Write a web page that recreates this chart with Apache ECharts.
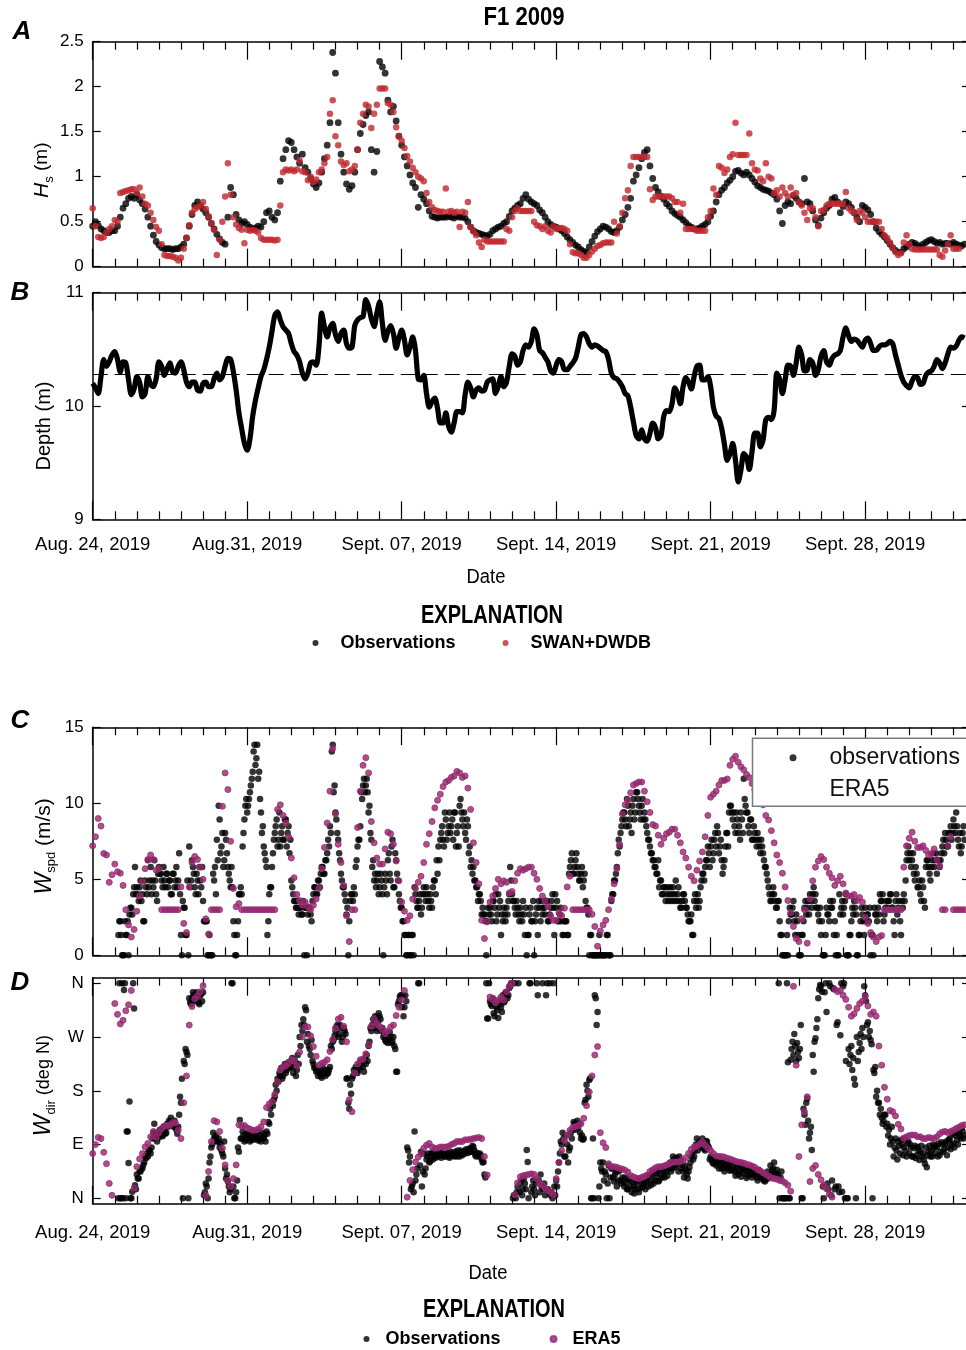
<!DOCTYPE html>
<html>
<head>
<meta charset="utf-8">
<script src="https://cdn.jsdelivr.net/npm/echarts@6/dist/echarts.min.js"></script>
<style>
  html, body { margin: 0; padding: 0; background: #fff; }
  #chart { width: 966px; height: 1350px; }
</style>
</head>
<body>
<div id="chart"></div>
<script>
// ---- Time axis: days since Aug. 24, 2019 00:00 ----
const TICK_LABELS = ['Aug. 24, 2019', 'Aug.31, 2019', 'Sept. 07, 2019', 'Sept. 14, 2019', 'Sept. 21, 2019', 'Sept. 28, 2019'];
const DIR_TICKS = [0, 90, 180, 270, 360];
const DIR_LABELS = ['N', 'E', 'S', 'W', 'N'];

// Modelled / gridded series: 3-hourly from day 0
const START_3H = 0;
const STEP_3H = 0.125;
// Station wind records: hourly from day 1, kept as even-hour and odd-hour lists
// (speeds logged in whole mph)
const OBS_EVEN_START = 1;
const OBS_ODD_START = 1 + 1 / 24;
const STEP_2H = 1 / 12;
const MPH_TO_MS = 0.44704;

// Mean water depth (dashed reference line)
const DEPTH_MEAN = 10.28;

// Significant wave height, observations (m)
const HS_OBS = [
  0.45,0.5,0.46,0.42,0.4,0.38,0.38,0.4,
  0.4,0.45,0.55,0.65,0.7,0.76,0.78,0.76,
  0.8,0.74,0.7,0.64,0.55,0.45,0.35,0.28,
  0.24,0.21,0.2,0.2,0.2,0.19,0.2,0.2,
  0.22,0.25,0.32,0.45,0.58,0.68,0.72,0.68,
  0.64,0.6,0.55,0.48,0.42,0.36,0.31,0.27,
  0.25,0.55,0.88,0.8,0.58,0.52,0.48,0.5,
  0.47,0.44,0.42,0.43,0.45,0.44,0.5,0.6,
  0.62,0.55,0.52,0.6,0.95,1.2,1.3,1.4,
  1.38,1.3,1.22,1.15,1.25,1.1,1.05,0.98,
  0.92,0.88,0.93,1.05,1.2,1.35,1.6,2.38,
  2.15,1.6,1.25,1.05,0.92,0.86,0.9,1.05,
  1.3,1.48,1.58,1.68,1.72,1.3,1.05,1.28,
  2.28,2.22,2.15,1.85,1.72,1.78,1.62,1.45,
  1.35,1.22,1.12,1.02,0.93,0.88,0.66,0.8,
  0.75,0.7,0.62,0.56,0.55,0.54,0.55,0.55,
  0.55,0.56,0.55,0.54,0.56,0.55,0.55,0.54,
  0.5,0.44,0.4,0.38,0.37,0.36,0.35,0.34,
  0.36,0.4,0.42,0.44,0.45,0.48,0.5,0.56,
  0.62,0.65,0.68,0.7,0.76,0.8,0.75,0.72,
  0.7,0.68,0.63,0.6,0.55,0.5,0.47,0.45,
  0.44,0.42,0.4,0.37,0.33,0.3,0.27,0.24,
  0.22,0.19,0.17,0.16,0.22,0.28,0.34,0.39,
  0.42,0.45,0.44,0.42,0.39,0.38,0.4,0.44,
  0.52,0.58,0.66,0.76,0.95,1.02,1.1,1.2,
  1.27,1.3,1.12,0.98,0.88,0.83,0.78,0.75,
  0.7,0.67,0.62,0.59,0.57,0.55,0.52,0.49,
  0.46,0.44,0.42,0.42,0.43,0.45,0.47,0.5,
  0.56,0.62,0.72,0.8,0.85,0.88,0.93,0.96,
  1.0,1.06,1.07,1.04,1.02,1.05,1.02,0.98,
  0.94,0.9,0.88,0.86,0.85,0.84,0.82,0.8,
  0.75,0.62,0.48,0.68,0.72,0.7,0.79,0.76,
  0.72,0.7,0.98,0.72,0.7,0.62,0.52,0.46,
  0.54,0.6,0.65,0.68,0.75,0.77,0.72,0.6,
  0.67,0.72,0.7,0.66,0.6,0.55,0.5,0.68,
  0.66,0.63,0.58,0.5,0.43,0.39,0.36,0.33,
  0.29,0.25,0.21,0.18,0.16,0.16,0.2,0.22,
  0.25,0.27,0.26,0.24,0.22,0.25,0.27,0.29,
  0.3,0.28,0.26,0.27,0.25,0.26,0.26,0.25,
  0.27,0.25,0.24,0.23,0.25
];

// Significant wave height, SWAN+DWDB (m)
const HS_MODEL = [
  0.65,0.45,0.33,0.32,0.33,0.38,0.42,0.45,
  0.52,0.5,0.82,0.83,0.84,0.85,0.86,0.86,
  0.82,0.88,0.78,0.7,0.68,0.6,0.52,0.44,
  0.4,0.25,0.13,0.12,0.12,0.11,0.1,0.07,
  0.1,0.2,0.32,0.46,0.6,0.64,0.66,0.68,
  0.72,0.64,0.56,0.48,0.41,0.13,0.3,0.5,
  0.78,1.15,0.8,0.55,0.47,0.43,0.41,0.26,
  0.41,0.4,0.41,0.4,0.38,0.32,0.3,0.3,
  0.3,0.3,0.29,0.3,0.68,1.05,1.08,1.07,
  1.08,1.06,1.08,1.18,1.06,1.05,0.96,1.0,
  0.94,0.97,1.05,1.08,1.15,1.22,1.7,1.85,
  1.45,1.35,1.17,1.13,1.15,1.06,1.08,1.12,
  1.3,1.6,1.7,1.8,1.78,1.54,1.7,1.8,
  1.98,1.98,1.98,1.82,1.8,1.72,1.55,1.45,
  1.4,1.32,1.23,1.17,1.1,1.05,1.0,0.98,
  0.95,0.82,0.72,0.66,0.63,0.62,0.61,0.61,
  0.87,0.61,0.62,0.6,0.61,0.44,0.61,0.6,
  0.72,0.44,0.39,0.35,0.27,0.22,0.3,0.28,
  0.28,0.28,0.28,0.28,0.28,0.28,0.42,0.4,
  0.55,0.62,0.65,0.62,0.62,0.62,0.62,0.62,
  0.5,0.46,0.45,0.42,0.45,0.4,0.38,0.45,
  0.42,0.43,0.43,0.42,0.4,0.25,0.16,0.15,
  0.15,0.13,0.1,0.1,0.13,0.17,0.2,0.23,
  0.24,0.26,0.27,0.27,0.27,0.5,0.37,0.45,
  0.6,0.76,0.85,1.12,1.22,1.22,1.22,1.22,
  1.22,1.22,0.86,0.74,0.78,0.78,0.78,0.78,
  0.78,0.78,0.76,0.72,0.72,0.6,0.7,0.42,
  0.42,0.42,0.42,0.4,0.4,0.4,0.4,0.55,
  0.62,0.87,0.8,1.12,1.1,1.04,1.08,1.22,
  1.25,1.6,1.24,1.24,1.24,1.24,1.48,1.15,
  1.08,1.07,0.98,0.95,1.15,1.0,0.98,0.82,
  0.85,0.78,0.88,0.82,0.78,0.88,0.8,0.82,
  0.72,0.68,0.6,0.52,0.65,0.65,0.55,0.45,
  0.62,0.63,0.68,0.7,0.7,0.7,0.7,0.7,
  0.7,0.83,0.65,0.62,0.6,0.52,0.62,0.6,
  0.55,0.5,0.5,0.5,0.5,0.5,0.42,0.35,
  0.32,0.27,0.21,0.16,0.13,0.15,0.27,0.35,
  0.25,0.2,0.19,0.19,0.19,0.19,0.19,0.19,
  0.19,0.19,0.19,0.13,0.11,0.18,0.25,0.35,
  0.2,0.2,0.2
];

// Water depth (m)
const DEPTH = [
  10.2,10.16,10.11,10.26,10.41,10.35,10.39,10.45,
  10.48,10.41,10.3,10.39,10.38,10.23,10.1,10.15,
  10.26,10.21,10.08,10.11,10.26,10.19,10.17,10.24,
  10.39,10.35,10.27,10.33,10.38,10.3,10.29,10.35,
  10.39,10.32,10.21,10.17,10.21,10.21,10.14,10.13,
  10.2,10.21,10.17,10.17,10.24,10.29,10.23,10.26,
  10.35,10.42,10.41,10.3,10.14,9.94,9.8,9.67,
  9.61,9.71,9.91,10.05,10.16,10.26,10.32,10.41,
  10.52,10.66,10.8,10.83,10.76,10.7,10.67,10.64,
  10.55,10.48,10.45,10.39,10.29,10.24,10.29,10.38,
  10.39,10.36,10.52,10.82,10.7,10.61,10.69,10.73,
  10.63,10.57,10.64,10.67,10.55,10.51,10.52,10.71,
  10.76,10.78,10.79,10.94,10.88,10.77,10.7,10.82,
  10.92,10.73,10.58,10.66,10.71,10.64,10.51,10.6,
  10.67,10.58,10.45,10.52,10.61,10.49,10.24,10.23,
  10.27,10.11,9.99,10.04,10.07,9.98,9.85,9.85,
  9.94,9.82,9.77,9.85,9.95,9.95,9.94,10.1,
  10.21,10.16,10.08,10.14,10.16,10.13,10.14,10.21,
  10.23,10.24,10.11,10.17,10.26,10.17,10.21,10.35,
  10.46,10.44,10.36,10.39,10.49,10.54,10.52,10.57,
  10.68,10.63,10.49,10.47,10.43,10.39,10.31,10.29,
  10.36,10.41,10.39,10.32,10.32,10.35,10.38,10.42,
  10.52,10.63,10.64,10.61,10.55,10.52,10.54,10.53,
  10.51,10.49,10.48,10.41,10.29,10.25,10.24,10.21,
  10.17,10.11,10.09,9.99,9.86,9.74,9.71,9.79,
  9.71,9.69,9.76,9.85,9.81,9.71,9.74,9.91,
  9.96,9.95,10.02,10.16,10.11,10.02,10.17,10.25,
  10.21,10.15,10.26,10.35,10.36,10.23,10.23,10.26,
  10.17,9.99,9.91,9.89,9.8,9.66,9.52,9.58,
  9.67,9.52,9.33,9.44,9.58,9.55,9.44,9.6,
  9.76,9.76,9.64,9.7,9.88,9.9,9.88,9.96,
  10.29,10.24,10.11,10.23,10.36,10.35,10.27,10.38,
  10.52,10.45,10.31,10.32,10.41,10.38,10.27,10.32,
  10.44,10.49,10.39,10.36,10.42,10.45,10.46,10.49,
  10.61,10.69,10.62,10.57,10.59,10.58,10.55,10.52,
  10.58,10.6,10.55,10.49,10.49,10.52,10.54,10.54,
  10.55,10.57,10.55,10.45,10.36,10.27,10.21,10.18,
  10.16,10.22,10.26,10.25,10.19,10.2,10.27,10.3,
  10.31,10.35,10.41,10.38,10.33,10.38,10.46,10.52,
  10.51,10.53,10.58,10.61,10.6
];

// Wind speed, ERA5 (m/s)
const ERA5_SPD = [
  7.2,7.8,9.0,8.5,6.7,6.6,4.8,5.3,
  6.0,5.5,5.4,4.6,3.0,2.0,1.2,1.7,
  2.9,3.9,4.8,5.7,6.3,6.6,6.3,5.6,
  5.7,3.0,3.0,3.0,3.0,3.0,3.0,3.0,
  4.5,2.1,1.5,4.5,6.1,6.5,6.3,5.8,
  5.0,2.4,1.4,3.0,3.0,3.0,3.0,9.8,
  12.0,10.9,7.5,4.4,3.2,3.4,3.0,3.0,
  3.0,3.0,3.0,3.0,3.0,3.0,3.0,3.0,
  3.0,3.0,3.0,9.6,9.9,9.2,8.7,7.8,
  6.4,5.1,4.0,3.6,3.3,3.5,3.2,3.0,
  3.3,3.7,4.4,5.7,7.1,8.7,10.8,13.6,
  9.3,7.3,6.1,4.6,2.6,0.9,3.0,3.0,
  8.4,10.8,12.5,13.0,12.0,8.8,7.4,6.4,
  6.0,6.0,7.0,8.1,8.0,7.3,6.2,4.9,
  3.5,2.9,2.3,2.6,3.7,4.4,4.8,5.2,
  6.1,7.3,8.0,8.8,9.7,10.2,10.6,11.1,
  11.4,11.5,11.7,11.8,12.1,12.0,11.7,11.8,
  11.0,9.6,7.4,6.1,4.7,2.3,1.1,2.2,
  3.5,3.9,4.4,5.0,4.7,4.9,4.8,4.1,
  4.2,4.9,5.4,5.7,5.6,5.7,5.8,5.8,
  5.4,5.0,4.4,3.9,3.6,3.2,2.6,2.3,
  2.3,2.8,2.6,3.1,4.5,5.2,3.0,3.0,
  3.0,3.0,3.0,3.0,3.0,2.7,1.9,0.6,
  1.6,2.0,2.3,3.0,3.7,4.7,5.7,7.3,
  9.3,9.9,10.2,10.7,11.2,11.3,11.4,11.4,
  10.8,10.1,9.4,8.6,8.5,7.9,7.3,7.7,
  8.0,8.1,8.3,8.3,7.9,7.4,6.8,6.4,
  5.8,5.2,4.9,5.6,6.2,6.8,7.8,9.2,
  10.4,10.6,10.8,11.2,11.5,11.5,11.6,12.5,
  12.9,13.1,12.7,12.4,12.2,11.9,11.7,11.3,
  10.9,10.7,10.5,9.9,9.2,8.9,8.2,7.4,
  6.6,6.1,5.4,4.5,3.6,2.8,1.9,1.1,
  0.9,2.4,3.0,0.8,3.7,4.9,5.8,6.2,
  6.5,6.3,5.8,5.4,5.1,4.6,4.9,5.2,
  4.7,4.1,3.9,3.9,4.0,3.6,3.8,3.5,
  2.5,2.1,1.5,1.2,0.9,1.2,1.3,3.0,
  3.0,3.0,3.0,3.0,3.0,3.0,5.8,7.2,
  7.7,8.1,7.5,7.1,7.1,7.2,6.9,6.6,
  6.7,7.0,6.3,5.9,3.0,3.0,7.2,7.8,
  3.0,3.0,3.0,3.0,3.0
];

// Wind speed, station observations at even hours (mph)
const WSPD_OBS_EVEN_MPH = [
  null,null,3,5,0,0,3,5,6,7,9,13,
  10,8,11,9,5,10,14,11,9,10,11,8,
  13,12,10,11,12,10,11,9,12,11,10,15,
  3,8,7,3,0,10,14,12,9,11,13,10,
  8,5,5,0,0,0,11,9,14,20,16,13,
  18,15,12,10,10,3,0,5,9,9,18,22,
  21,23,25,27,31,29,26,23,18,16,14,3,
  9,10,15,18,20,17,16,19,17,20,18,15,
  11,9,8,7,6,7,6,0,7,6,7,5,
  9,10,9,11,12,13,12,14,17,19,30,24,
  21,18,15,12,10,9,6,0,8,9,10,13,
  16,17,24,25,24,26,21,18,13,11,10,12,
  10,11,0,12,9,15,11,17,10,14,11,8,
  7,5,3,0,3,0,3,10,8,7,9,7,
  10,8,9,7,8,10,11,14,16,17,19,16,
  20,18,21,19,17,21,18,16,23,20,21,17,
  19,16,14,13,11,10,9,8,7,6,0,7,
  7,5,8,9,6,7,3,5,6,7,8,13,
  9,8,6,7,5,6,8,3,0,3,7,5,
  0,6,3,7,8,7,6,8,5,7,9,3,
  7,5,6,5,3,5,3,12,14,12,13,15,
  12,11,13,11,8,7,0,3,0,0,0,0,
  0,0,0,0,3,0,8,9,11,13,17,18,
  20,21,19,22,20,18,23,21,24,22,20,23,
  21,19,17,16,15,14,13,12,10,11,9,10,
  9,8,10,9,8,11,9,8,7,9,8,7,
  5,5,3,8,7,9,8,11,12,13,14,15,
  16,14,17,16,18,16,14,13,16,18,21,22,
  20,19,21,18,17,20,26,22,21,18,20,17,
  18,16,17,15,16,14,13,11,9,8,10,8,
  7,8,3,0,0,0,0,7,6,8,3,5,
  0,0,3,7,6,8,9,7,10,9,7,5,
  3,0,0,7,6,8,7,3,0,0,9,7,
  6,8,0,0,3,7,8,6,0,3,7,5,
  7,6,5,0,3,7,6,7,9,8,5,7,
  7,8,9,7,3,9,7,5,8,9,11,15,
  14,13,15,11,12,10,9,11,8,13,14,12,
  13,15,14,12,14,14,16,15,17,16,18,17,
  20,18,19,16,15,18,17
];

// Wind speed, station observations at odd hours (mph)
const WSPD_OBS_ODD_MPH = [
  null,null,5,3,0,5,3,0,7,6,10,9,
  9,10,8,5,11,9,10,13,11,14,9,12,
  12,11,13,10,12,11,9,12,10,13,11,9,
  0,7,3,11,16,11,13,10,12,9,11,13,
  5,5,0,3,0,12,13,17,22,15,18,14,
  17,13,11,13,5,0,3,9,10,16,20,23,
  22,24,26,30,28,31,27,21,19,15,13,5,
  10,13,17,19,16,21,18,17,20,16,19,17,
  10,8,7,8,7,6,8,7,0,7,6,8,
  10,9,11,10,13,12,14,15,16,18,31,25,
  20,17,14,11,10,8,7,5,9,8,9,14,
  17,19,23,26,25,24,22,17,14,12,11,9,
  12,9,10,11,14,12,16,10,15,12,9,7,
  5,3,0,3,0,3,0,9,7,8,6,9,
  9,10,8,9,7,11,9,12,14,18,17,21,
  17,19,18,20,21,16,19,22,21,19,18,20,
  15,13,12,11,10,8,9,6,6,5,5,6,
  6,8,7,5,9,8,6,7,5,6,9,11,
  8,7,8,6,7,5,6,7,3,6,5,8,
  5,7,8,5,6,7,8,5,6,8,7,9,
  8,5,7,3,5,5,3,13,15,12,14,13,
  11,12,10,12,7,6,3,0,0,0,0,3,
  0,0,0,3,0,0,9,11,12,15,16,19,
  21,20,23,19,21,22,20,24,23,21,22,20,
  20,18,17,15,14,13,12,14,11,9,10,8,
  10,9,8,10,9,8,10,7,8,9,7,6,
  5,6,3,9,8,7,10,12,11,14,16,13,
  17,15,18,19,15,17,12,14,18,16,22,21,
  21,18,20,19,21,18,23,21,19,20,17,19,
  17,18,16,17,15,13,12,10,8,9,9,7,
  8,5,3,0,0,3,5,6,7,5,6,3,
  0,3,5,8,7,6,8,9,8,7,6,7,
  5,0,3,6,5,7,8,5,3,0,6,8,
  7,9,0,3,5,6,7,0,3,5,6,3,
  5,6,7,3,0,6,5,6,8,9,6,8,
  8,9,7,5,8,6,8,3,7,8,14,16,
  15,14,12,13,10,11,8,10,7,14,13,11,
  14,13,15,14,13,15,17,18,16,18,19,18,
  19,21,17,18,16,19
];

// Wind direction, ERA5 (degrees from N)
const ERA5_DIR = [
  75,90,102,100,77,58,25,5,
  326,308,292,298,314,324,348,17,
  53,66,75,86,92,103,112,102,
  110,117,121,122,123,127,126,114,
  100,160,205,290,321,334,339,346,
  356,5,45,95,130,128,112,84,
  56,30,20,33,56,123,121,122,
  118,116,114,114,116,120,128,152,
  158,162,174,195,215,220,222,226,
  232,230,222,245,270,287,287,272,
  254,238,223,226,228,232,246,266,
  285,300,303,288,262,165,145,210,
  225,232,233,242,257,288,300,293,
  288,283,276,280,287,290,306,320,
  332,348,2,30,48,61,69,74,
  84,89,92,86,84,84,86,86,
  86,87,90,92,95,95,95,98,
  98,99,100,101,102,100,70,39,
  337,333,327,332,337,332,346,355,
  360,6,26,36,38,39,40,41,
  40,33,25,22,17,13,10,6,
  33,60,80,97,106,114,119,120,
  122,125,134,155,178,205,240,254,
  110,93,85,58,53,53,52,50,
  49,47,44,38,36,34,33,35,
  37,39,45,48,51,53,53,54,
  56,58,60,61,61,62,63,68,
  75,82,86,87,91,95,89,84,
  80,75,71,70,70,69,67,66,
  64,62,61,60,59,57,56,54,
  52,48,46,43,40,37,34,33,
  32,30,29,26,22,12,355,223,
  70,123,145,170,28,50,55,40,
  31,22,16,7,2,350,346,348,
  340,333,320,305,309,318,326,330,
  338,322,308,312,305,255,223,186,
  166,147,145,138,124,116,101,103,
  105,106,106,103,103,100,100,102,
  101,100,103,108,111,112,110,112,
  114,117,119,122,123
];

// Wind direction, station observations at even hours (degrees from N)
const WDIR_OBS_EVEN = [
  null,null,0,0,360,349,0,112,162,0,360,22,
  40,33,45,50,60,67,70,80,85,110,100,95,
  102,110,104,115,110,120,125,128,120,118,108,140,
  160,0,225,245,0,328,335,340,332,338,325,342,
  345,10,20,33,70,90,100,105,95,85,80,70,
  50,40,20,15,360,0,10,85,131,100,105,98,
  100,105,98,102,108,100,97,105,110,100,95,108,
  125,140,155,170,180,195,205,200,215,210,222,218,
  225,210,230,215,225,255,280,290,315,275,250,265,
  225,220,215,210,205,220,212,215,210,220,250,265,
  280,290,275,285,270,280,200,160,190,200,215,220,
  210,225,230,220,235,240,255,285,290,300,285,295,
  305,280,270,265,275,265,270,262,255,212,325,338,
  320,305,340,85,60,15,25,112,40,360,55,20,
  75,50,70,60,75,65,70,75,70,78,72,75,
  70,76,68,75,72,78,70,75,80,72,78,82,
  76,84,78,86,72,76,70,72,60,40,360,301,
  330,322,310,325,315,330,320,340,330,345,340,355,
  360,5,0,20,10,30,15,25,81,0,360,20,
  15,25,340,10,20,15,5,360,10,5,0,20,
  30,45,75,90,100,70,90,80,110,115,125,120,
  118,110,105,100,165,180,198,0,100,340,290,0,
  60,45,30,40,25,0,50,35,40,20,45,30,
  35,20,25,15,30,10,20,15,25,10,30,20,
  25,35,20,30,40,25,35,45,30,40,50,35,
  45,55,60,50,65,55,60,70,50,45,55,40,
  45,60,75,70,90,80,95,85,90,80,95,85,
  70,60,65,55,62,58,50,60,55,50,58,48,
  55,45,52,40,48,55,42,50,38,46,52,40,
  45,35,48,38,42,30,38,45,35,40,50,42,
  48,360,35,0,0,0,228,0,250,240,255,260,
  235,290,0,140,160,130,110,81,212,268,300,350,
  355,20,345,312,15,355,30,350,20,295,10,360,
  355,0,0,250,240,215,200,0,230,260,250,270,
  340,290,270,265,0,210,170,160,140,135,130,140,
  125,115,100,95,85,80,95,75,90,85,80,92,
  75,85,70,88,72,80,78,70,65,85,72,88,
  80,90,75,85,92,78,90,82,95,85,100,90,
  92,105,98,110,100,112,105
];

// Wind direction, station observations at odd hours (degrees from N)
const WDIR_OBS_ODD = [
  null,null,360,0,0,360,112,59,0,11,318,15,
  33,45,50,56,70,75,80,75,100,125,110,105,
  115,105,120,108,125,130,135,126,130,115,120,170,
  200,230,250,240,335,325,345,330,345,328,340,330,
  5,25,0,60,85,110,102,95,100,92,75,95,
  33,28,10,360,20,0,30,78,100,112,95,108,
  108,95,110,98,104,112,100,95,100,106,112,128,
  150,160,165,190,200,210,218,205,225,215,228,220,
  235,220,205,240,270,290,300,320,262,255,240,230,
  218,212,205,215,202,210,205,208,215,255,262,272,
  287,270,290,262,285,275,201,150,175,205,210,215,
  215,220,228,212,225,230,262,280,300,305,280,310,
  300,285,275,262,260,278,260,270,250,212,330,340,
  340,320,330,80,70,20,10,30,50,360,78,45,
  40,65,75,62,70,78,68,72,76,68,74,70,
  74,70,78,72,70,75,80,70,74,78,75,80,
  82,78,88,80,70,74,75,65,61,35,301,360,
  325,335,305,320,302,325,312,328,345,335,352,360,
  0,360,10,360,25,5,33,15,61,360,10,30,
  5,360,30,40,360,25,340,15,360,10,360,5,
  20,60,95,110,70,105,60,85,100,128,115,130,
  125,100,98,160,190,170,201,0,0,335,312,20,
  50,60,45,0,55,35,50,28,45,30,48,25,
  28,35,15,33,20,28,8,28,15,33,18,25,
  15,28,38,22,45,30,42,28,48,35,45,52,
  38,50,45,70,52,68,45,62,56,35,48,33,
  52,70,65,80,100,92,86,100,82,96,88,65,
  66,58,64,60,50,66,55,45,62,52,46,60,
  48,38,56,45,36,52,46,34,48,40,35,47,
  40,30,44,33,36,28,32,38,55,47,60,39,
  40,0,45,0,0,360,0,232,262,275,230,245,
  250,0,150,123,167,100,120,240,262,285,335,357,
  346,0,360,25,360,5,352,15,290,20,273,11,
  360,230,0,225,255,235,190,270,245,275,285,355,
  330,295,280,258,215,220,180,160,150,125,140,120,
  105,90,120,70,100,65,88,98,72,100,70,95,
  90,70,84,67,86,64,88,75,58,52,78,70,
  70,85,88,70,72,94,78,92,72,98,82,108,
  85,110,90,105,118,100
];

// ---- helpers ----
function toPoints(t0, dt, values, scale) {
  const k = scale == null ? 1 : scale;
  const out = [];
  values.forEach((v, i) => { if (v != null) out.push([t0 + i * dt, +(v * k).toFixed(3)]); });
  return out;
}

const REG = "'Liberation Sans', Arial, Helvetica, sans-serif";
const INK = '#000';
const RED = '#c1272d';
const PURPLE = '#a3235a';
const PURPLE_EDGE = '#86308e';

const GRID_LEFT = 92.7;
const DAY_SPAN = 42;               // axis runs to Oct. 5; the page ends near Oct. 2
const GRID_WIDTH = 22.07 * DAY_SPAN;
const RIGHT_OFFSET = -(GRID_LEFT + GRID_WIDTH - 967);

const gridBase = { left: GRID_LEFT, width: GRID_WIDTH, outerBoundsMode: 'none', containLabel: false };
const grids = [
  Object.assign({ top: 41.7, height: 225 }, gridBase),
  Object.assign({ top: 292.7, height: 226.6 }, gridBase),
  Object.assign({ top: 727.3, height: 228 }, gridBase),
  Object.assign({ top: 977.7, height: 226 }, gridBase)
];

function dateLabel(v) {
  const k = Math.round(v / 7);
  return Math.abs(v - k * 7) < 1e-6 && k < TICK_LABELS.length ? TICK_LABELS[k] : '';
}

function xPair(gridIndex, labelMargin) {
  const base = {
    type: 'value', gridIndex, min: 0, max: DAY_SPAN, interval: 7,
    axisLine: { show: true, onZero: false, lineStyle: { color: INK, width: 1.5 } },
    axisTick: { show: true, inside: true, length: 18, lineStyle: { color: INK, width: 1.2 } },
    minorTick: { show: true, splitNumber: 7, length: 8, lineStyle: { color: INK, width: 1.2 } },
    splitLine: { show: false }
  };
  const bottom = Object.assign({}, base, {
    position: 'bottom',
    axisLabel: labelMargin == null ? { show: false } : {
      show: true, margin: labelMargin, color: INK, fontFamily: REG, fontSize: 18.5,
      showMinLabel: true, showMaxLabel: false, hideOverlap: false, formatter: dateLabel
    }
  });
  const top = Object.assign({}, base, { position: 'top', axisLabel: { show: false } });
  return [bottom, top];
}

function yPair(gridIndex, cfg) {
  const left = Object.assign({
    type: 'value', gridIndex, position: 'left',
    axisLine: { show: true, onZero: false, lineStyle: { color: INK, width: 1.5 } },
    axisTick: { show: true, inside: true, length: 8, lineStyle: { color: INK, width: 1.2 } },
    axisLabel: { color: INK, fontFamily: REG, fontSize: 17, margin: 9 },
    splitLine: { show: false },
    nameLocation: 'middle', nameRotate: 90, nameMoveOverlap: false,
    nameTextStyle: { color: INK, fontFamily: REG, fontSize: 20 }
  }, cfg.left);
  const right = Object.assign({
    type: 'value', gridIndex, position: 'right', offset: RIGHT_OFFSET,
    axisLine: { show: false, onZero: false },
    axisTick: { show: true, inside: true, length: 5, lineStyle: { color: INK, width: 1.2 } },
    axisLabel: { show: false },
    splitLine: { show: false }
  }, cfg.right);
  return [left, right];
}

function subRich(main, rest) {
  return {
    i: { fontStyle: 'italic', fontFamily: REG, fontSize: main, lineHeight: 28, color: INK },
    s: { fontFamily: REG, fontSize: 13, lineHeight: 11, verticalAlign: 'bottom', color: INK },
    n: { fontFamily: REG, fontSize: rest, lineHeight: 28, color: INK }
  };
}

const xAxes = [].concat(
  xPair(0, null),
  xPair(1, 16),
  xPair(2, null),
  xPair(3, 20)
);

const yAxes = [].concat(
  yPair(0, {
    left: { min: 0, max: 2.5, interval: 0.5, name: '{i|H}{s|s}{n| (m)}', nameGap: 37,
            nameTextStyle: { rich: subRich(21, 19), padding: [0, 32, 0, 0] } },
    right: { min: 0, max: 2.5, interval: 0.5 }
  }),
  yPair(1, {
    left: { min: 9, max: 11, interval: 1, name: 'Depth (m)', nameGap: 38,
            nameTextStyle: { color: INK, fontFamily: REG, fontSize: 20, padding: [0, 40, 0, 0] } },
    right: { min: 9, max: 11, interval: 1 }
  }),
  yPair(2, {
    left: { min: 0, max: 15, interval: 5, name: '{i|W}{s|spd}{n| (m/s)}', nameGap: 34.5,
            nameTextStyle: { rich: subRich(23, 21), padding: [0, 10, 0, 0] } },
    right: { min: 0, max: 15, interval: 5 }
  }),
  yPair(3, {
    left: {
      min: -9, max: 369.4, name: '{i|W}{s|dir}{n| (deg N)}', nameGap: 35,
      nameTextStyle: { rich: subRich(23, 18), padding: [0, 0, 0, 10] },
      axisTick: { show: true, inside: true, length: 8, customValues: DIR_TICKS, lineStyle: { color: INK, width: 1.2 } },
      axisLabel: { color: INK, fontFamily: REG, fontSize: 17, margin: 9, customValues: DIR_TICKS,
                   formatter: v => DIR_LABELS[DIR_TICKS.indexOf(Math.round(v))] || '' }
    },
    right: {
      min: -9, max: 369.4,
      axisTick: { show: true, inside: true, length: 5, customValues: DIR_TICKS, lineStyle: { color: INK, width: 1.2 } }
    }
  })
);

const spdObs = toPoints(OBS_EVEN_START, STEP_2H, WSPD_OBS_EVEN_MPH, MPH_TO_MS)
  .concat(toPoints(OBS_ODD_START, STEP_2H, WSPD_OBS_ODD_MPH, MPH_TO_MS));
const dirObs = toPoints(OBS_EVEN_START, STEP_2H, WDIR_OBS_EVEN)
  .concat(toPoints(OBS_ODD_START, STEP_2H, WDIR_OBS_ODD));

const series = [
  { type: 'scatter', name: 'Observations', xAxisIndex: 0, yAxisIndex: 0, symbolSize: 6.8,
    itemStyle: { color: INK }, data: toPoints(START_3H, STEP_3H, HS_OBS), z: 2 },
  { type: 'scatter', name: 'SWAN+DWDB', xAxisIndex: 0, yAxisIndex: 0, symbolSize: 6.5,
    itemStyle: { color: RED }, data: toPoints(START_3H, STEP_3H, HS_MODEL), z: 3 },
  { type: 'line', name: 'Depth', xAxisIndex: 2, yAxisIndex: 2, symbol: 'none', smooth: 0.3,
    lineStyle: { color: INK, width: 5.2 }, data: toPoints(START_3H, STEP_3H, DEPTH),
    markLine: { silent: true, symbol: 'none', label: { show: false },
      lineStyle: { color: INK, width: 1.2, type: [15, 7] }, data: [{ yAxis: DEPTH_MEAN }] } },
  { type: 'scatter', name: 'observations', xAxisIndex: 4, yAxisIndex: 4, symbolSize: 6.5,
    itemStyle: { color: INK }, data: spdObs, z: 2 },
  { type: 'scatter', name: 'ERA5', xAxisIndex: 4, yAxisIndex: 4, symbolSize: 6,
    itemStyle: { color: PURPLE, borderColor: PURPLE_EDGE, borderWidth: 1 },
    data: toPoints(START_3H, STEP_3H, ERA5_SPD), z: 3 },
  { type: 'scatter', name: 'Observations', xAxisIndex: 6, yAxisIndex: 6, symbolSize: 6.5, clip: false,
    itemStyle: { color: INK }, data: dirObs, z: 2 },
  { type: 'scatter', name: 'ERA5', xAxisIndex: 6, yAxisIndex: 6, symbolSize: 6, clip: false,
    itemStyle: { color: PURPLE, borderColor: PURPLE_EDGE, borderWidth: 1 },
    data: toPoints(START_3H, STEP_3H, ERA5_DIR), z: 3 }
];

const legends = [
  { left: 312.5, top: 634, orient: 'horizontal', selectedMode: false, icon: 'circle',
    itemWidth: 40, itemHeight: 6, itemGap: 47, padding: 0,
    textStyle: { color: INK, fontFamily: REG, fontWeight: 'bold', fontSize: 18 },
    data: ['Observations', 'SWAN+DWDB'] },
  { left: 752.5, top: 738.3, orient: 'vertical', selectedMode: false, icon: 'circle',
    itemWidth: 63, itemHeight: 7, itemGap: 9, padding: [8, 45, 5, 36],
    borderColor: '#7a7a7a', borderWidth: 1.5, backgroundColor: '#fff',
    textStyle: { color: '#111', fontFamily: REG, fontSize: 23 },
    data: ['observations', { name: 'ERA5', itemStyle: { opacity: 0 } }] },
  { left: 363.5, top: 1330, orient: 'horizontal', selectedMode: false, icon: 'circle',
    itemWidth: 28, itemHeight: 6, itemGap: 49, padding: 0,
    textStyle: { color: INK, fontFamily: REG, fontWeight: 'bold', fontSize: 18 },
    data: ['Observations', 'ERA5'] }
];

function label(text, x, y, font, sx) {
  return { type: 'text', x, y, scaleX: sx || 1, silent: true,
    style: { text, font, fill: INK, textAlign: 'center', textVerticalAlign: 'middle' } };
}
const BOLD_TITLE = 'bold 26px ' + REG;
const LETTER = 'italic bold 26px ' + REG;
const graphics = [
  label('F1 2009', 524, 18, BOLD_TITLE, 0.85),
  label('A', 22, 32, LETTER),
  label('B', 20, 293, LETTER),
  label('C', 20, 721, LETTER),
  label('D', 20, 983, LETTER),
  label('Date', 486, 577, '20px ' + REG, 0.92),
  label('EXPLANATION', 492, 616, BOLD_TITLE, 0.77),
  label('Date', 488, 1273, '20px ' + REG, 0.92),
  label('EXPLANATION', 494, 1310, BOLD_TITLE, 0.77)
];

const chart = echarts.init(document.getElementById('chart'), null, { renderer: 'canvas' });
chart.setOption({
  animation: false,
  backgroundColor: '#fff',
  grid: grids,
  xAxis: xAxes,
  yAxis: yAxes,
  legend: legends,
  graphic: graphics,
  series
});
</script>
</body>
</html>
